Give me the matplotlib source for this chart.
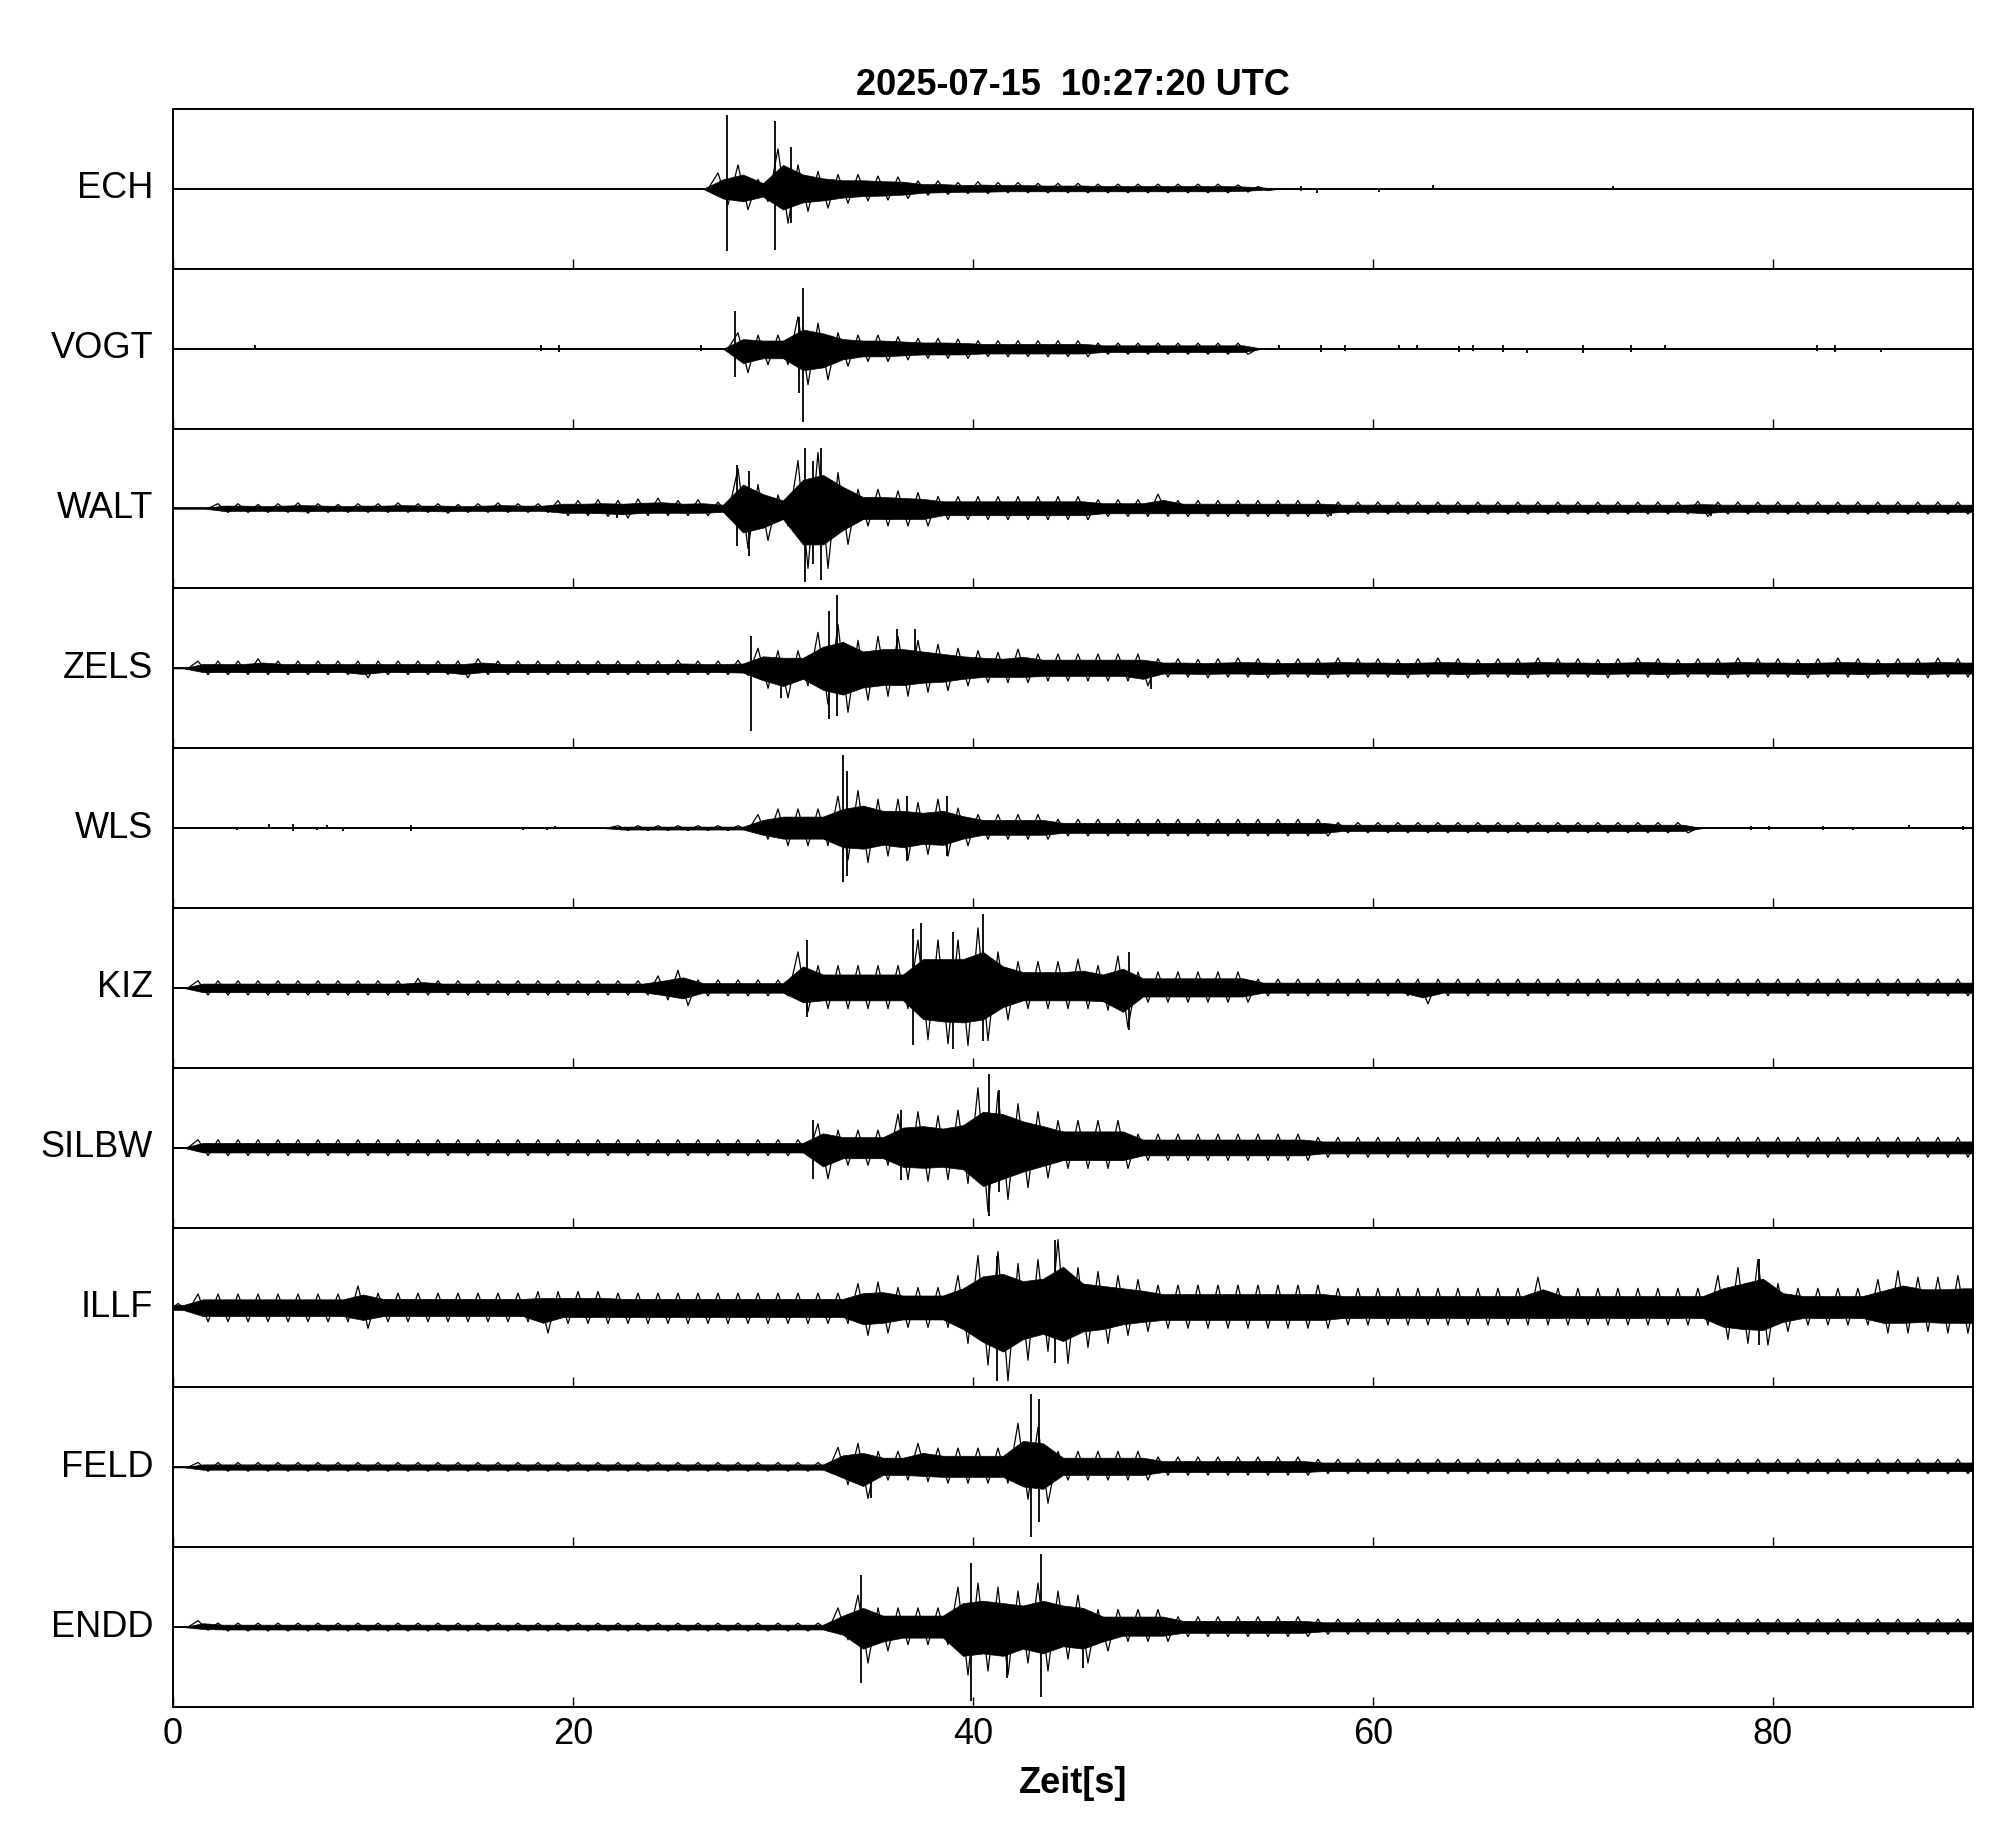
import numpy as np
import matplotlib
matplotlib.use('Agg')
import matplotlib.pyplot as plt

plt.rcParams['font.family'] = ['Liberation Sans', 'DejaVu Sans']

## DATA: envelope of each trace, per 1 s bin, in % of half panel height

title = '2025-07-15  10:27:20 UTC'
stations = ['ECH', 'VOGT', 'WALT', 'ZELS', 'WLS', 'KIZ', 'SILBW', 'ILLF', 'FELD', 'ENDD']
xticks = [0, 20, 40, 60, 80]

ech_hi = [0,0,0,0,0,0,0,0,0,0, 0,0,0,0,0,0,0,0,0,0, 0,0,0,0,0,0,0,20,30,12,
          50,30,22,18,18,16,15,10,10,8, 9,8,8,7,7,7,6,6,6,6, 6,6,6,5,3,0,0,0,0,0,
          0,0,0,0,0,0,0,0,0,0, 0,0,0,0,0,0,0,0,0,0, 0,0,0,0,0,0,0,0,0,0]
ech_lo = [0,0,0,0,0,0,0,0,0,0, 0,0,0,0,0,0,0,0,0,0, 0,0,0,0,0,0,0,-20,-26,-16,
          -43,-28,-24,-18,-15,-14,-12,-8,-7,-6, -6,-5,-5,-5,-5,-5,-5,-5,-5,-5,
          -5,-5,-5,-4,-2,0,0,0,0,0, 0,0,0,0,0,0,0,0,0,0, 0,0,0,0,0,0,0,0,0,0,
          0,0,0,0,0,0,0,0,0,0]

vogt_hi = [0,0,0,0,0,0,0,0,0,0, 0,0,0,0,0,0,0,0,0,0, 0,0,0,0,0,0,0,0,20,17,
           17,40,32,20,17,17,15,13,13,12, 10,10,10,10,10,10,7,7,7,7, 7,7,7,7,0,0,0,0,0,0,
           0,0,0,0,0,0,0,0,0,0, 0,0,0,0,0,0,0,0,0,0, 0,0,0,0,0,0,0,0,0,0]
vogt_lo = [0,0,0,0,0,0,0,0,0,0, 0,0,0,0,0,0,0,0,0,0, 0,0,0,0,0,0,0,0,-30,-20,
           -20,-45,-39,-22,-16,-16,-14,-12,-12,-12, -10,-10,-10,-10,-10,-10,-7,-7,-7,-7,
           -7,-7,-7,-7,0,0,0,0,0,0, 0,0,0,0,0,0,0,0,0,0, 0,0,0,0,0,0,0,0,0,0,
           0,0,0,0,0,0,0,0,0,0]

walt_hi = [0,0,6,6,5,6,7,6,5,6, 6,7,6,6,5,6,7,6,6,10, 10,11,10,12,13,10,11,8,50,30,
           17,60,70,45,24,24,22,20,15,15, 15,15,15,15,15,15,11,11,11,18,
           10,10,10,10,10,10,10,10,8,8, 8,8,8,8,8,8,8,8,8,8, 8,8,8,8,8,8,9,8,8,8,
           8,8,8,8,8,8,8,8,8,8]
walt_lo = [0,0,-5,-5,-5,-5,-6,-5,-5,-5, -5,-5,-5,-6,-5,-5,-5,-5,-5,-9,
           -9,-10,-12,-9,-9,-9,-9,-7,-50,-40, -22,-75,-75,-45,-22,-22,-22,-22,-14,-14,
           -14,-14,-14,-14,-14,-14,-10,-10,-10,-10, -10,-10,-10,-10,-10,-10,-10,-10,-7,-7,
           -7,-7,-7,-7,-7,-7,-7,-7,-7,-7, -7,-7,-7,-7,-7,-7,-10,-7,-7,-7,
           -7,-7,-7,-7,-7,-7,-7,-7,-7,-7]

zels_hi = [0,9,9,9,12,9,9,9,9,9, 9,9,9,9,9,12,9,9,9,9, 9,9,9,9,9,10,9,9,10,25,
           22,22,45,55,35,40,40,35,30,25, 22,20,24,18,18,18,18,18,18,12,
           12,11,12,13,12,11,12,12,13,12, 12,11,12,13,12,11,12,12,13,12,
           12,11,12,13,12,11,12,12,13,12, 12,11,12,13,12,11,12,12,13,12]
zels_lo = [0,-8,-8,-8,-8,-8,-8,-8,-8,-12, -8,-8,-8,-8,-12,-8,-8,-8,-8,-8,
           -8,-8,-8,-8,-8,-8,-8,-8,-9,-25, -37,-22,-45,-55,-40,-35,-35,-30,-28,-22,
           -18,-18,-18,-16,-16,-16,-16,-16,-22,-11, -11,-12,-11,-11,-12,-11,-11,-12,-11,-11,
           -11,-12,-11,-11,-12,-11,-11,-12,-11,-11, -11,-12,-11,-11,-12,-11,-11,-12,-11,-11,
           -11,-12,-11,-11,-12,-11,-11,-12,-11,-11]

wls_hi = [0,0,0,0,0,0,0,0,0,0, 0,0,0,0,0,0,0,0,0,0, 0,0,3,3,3,3,3,3,3,17,
          24,24,24,40,47,36,36,32,36,25, 17,17,17,17,11,11,11,11,11,11,
          11,11,11,11,11,11,11,11,7,7, 7,7,7,7,7,7,7,7,7,7, 7,7,7,7,7,7,0,0,0,0,
          0,0,0,0,0,0,0,0,0,0]
wls_lo = [0,0,0,0,0,0,0,0,0,0, 0,0,0,0,0,0,0,0,0,0, 0,0,-3,-3,-3,-3,-3,-3,-3,-14,
          -22,-22,-22,-40,-43,-35,-40,-33,-35,-22, -14,-14,-14,-14,-10,-10,-10,-10,-10,-10,
          -10,-10,-10,-10,-10,-10,-10,-10,-6,-6, -6,-6,-6,-6,-6,-6,-6,-6,-6,-6,
          -6,-6,-6,-6,-6,-6,0,0,0,0, 0,0,0,0,0,0,0,0,0,0]

kiz_hi = [0,9,9,9,9,9,9,9,9,9, 9,9,12,9,9,9,9,9,9,9, 9,9,9,9,15,22,10,10,10,10,
          10,45,28,28,28,28,28,60,60,60, 75,45,33,33,33,36,28,40,20,20,
          20,20,20,20,11,11,11,11,11,11, 11,11,11,11,11,11,11,11,11,11,
          11,11,11,11,11,11,11,11,11,11, 11,11,11,11,11,11,11,11,11,11]
kiz_lo = [0,-9,-9,-9,-9,-9,-9,-9,-9,-9, -9,-9,-9,-9,-9,-9,-9,-9,-9,-9,
          -9,-9,-9,-9,-15,-22,-10,-10,-10,-10, -10,-30,-26,-26,-26,-26,-26,-65,-70,-72,
          -66,-40,-26,-26,-26,-26,-28,-50,-18,-18, -18,-18,-18,-18,-10,-10,-10,-10,-10,-10,
          -10,-10,-20,-10,-10,-10,-10,-10,-10,-10, -10,-10,-10,-10,-10,-10,-10,-10,-10,-10,
          -10,-10,-10,-10,-10,-10,-10,-10,-10,-10]

silbw_hi = [0,10,10,10,10,10,10,10,10,10, 10,10,10,10,10,10,10,10,10,10,
            10,10,10,10,10,10,10,10,10,10, 10,10,30,22,22,22,42,45,40,47,
            75,70,55,45,34,34,34,34,17,17, 17,17,17,17,17,17,17,13,13,13,
            13,13,13,13,13,13,13,13,13,13, 13,13,13,13,13,13,13,13,13,13,
            13,13,13,13,13,13,13,13,13,13]
silbw_lo = [0,-10,-10,-10,-10,-10,-10,-10,-10,-10, -10,-10,-10,-10,-10,-10,-10,-10,-10,-10,
            -10,-10,-10,-10,-10,-10,-10,-10,-10,-10, -10,-10,-39,-22,-22,-22,-40,-42,-40,-45,
            -80,-65,-50,-38,-26,-26,-26,-26,-16,-16, -16,-16,-16,-16,-16,-16,-16,-12,-12,-12,
            -12,-12,-12,-12,-12,-12,-12,-12,-12,-12, -12,-12,-12,-12,-12,-12,-12,-12,-12,-12,
            -12,-12,-12,-12,-12,-12,-12,-12,-12,-12]

illf_hi = [5,17,17,17,17,17,17,17,17,27, 18,18,18,18,18,18,18,18,20,20,
           20,20,18,18,18,18,18,18,18,18, 18,18,18,18,30,32,25,25,25,40,
           65,70,55,60,85,50,45,40,35,28, 28,28,28,28,28,28,28,28,24,24,
           24,24,24,24,24,24,24,24,38,24, 24,24,24,24,24,24,24,40,50,60,
           30,24,24,24,24,35,46,38,38,40]
illf_lo = [-5,-18,-18,-18,-18,-18,-18,-18,-18,-26, -18,-18,-18,-18,-18,-18,-18,-18,-32,-20,
           -20,-20,-20,-20,-20,-20,-20,-20,-20,-20, -20,-20,-20,-20,-35,-32,-25,-25,-25,-45,
           -72,-92,-66,-55,-70,-50,-45,-35,-30,-26, -26,-26,-26,-26,-26,-26,-26,-26,-22,-22,
           -22,-22,-22,-22,-22,-22,-22,-22,-22,-22, -22,-22,-22,-22,-22,-22,-22,-40,-45,-47,
           -30,-22,-22,-22,-22,-32,-32,-30,-32,-32]

feld_hi = [0,6,6,6,6,6,6,6,6,6, 6,6,6,6,6,6,6,6,6,6, 6,6,6,6,6,6,6,6,6,6,
           6,6,6,25,30,20,20,30,24,24, 24,24,55,50,20,20,20,20,20,13,
           13,13,13,13,13,13,13,10,10,10, 10,10,10,10,10,10,10,10,10,10,
           10,10,10,10,10,10,10,10,10,10, 10,10,10,10,10,10,10,10,10,10]
feld_lo = [0,-5,-5,-5,-5,-5,-5,-5,-5,-5, -5,-5,-5,-5,-5,-5,-5,-5,-5,-5,
           -5,-5,-5,-5,-5,-5,-5,-5,-5,-5, -5,-5,-5,-22,-39,-16,-16,-18,-20,-20,
           -20,-20,-40,-45,-16,-16,-16,-16,-16,-10, -10,-10,-10,-10,-10,-10,-10,-8,-8,-8,
           -8,-8,-8,-8,-8,-8,-8,-8,-8,-8, -8,-8,-8,-8,-8,-8,-8,-8,-8,-8,
           -8,-8,-8,-8,-8,-8,-8,-8,-8,-8]

endd_hi = [0,8,5,5,5,5,5,5,5,5, 5,5,5,5,5,5,5,5,5,5, 5,5,5,5,5,5,5,5,5,5,
           5,5,5,24,40,24,24,24,24,50, 55,50,45,55,45,40,22,22,22,22,
           13,13,13,13,13,13,13,10,10,10, 10,10,10,10,10,10,10,10,10,10,
           10,10,10,10,10,10,10,10,10,10, 10,10,10,10,10,10,10,10,10,10]
endd_lo = [0,-4,-5,-5,-5,-5,-5,-5,-5,-5, -5,-5,-5,-5,-5,-5,-5,-5,-5,-5,
           -5,-5,-5,-5,-5,-5,-5,-5,-5,-5, -5,-5,-5,-16,-45,-30,-22,-22,-22,-60,
           -55,-60,-45,-55,-40,-45,-30,-18,-18,-18, -12,-12,-12,-12,-12,-12,-12,-9,-9,-9,
           -9,-9,-9,-9,-9,-9,-9,-9,-9,-9, -9,-9,-9,-9,-9,-9,-9,-9,-9,-9,
           -9,-9,-9,-9,-9,-9,-9,-9,-9,-9]

## narrow peaks: (time s, top %, bottom %)

ech_spk = [(27.7, 92, -78), (30.1, 85, -76), (30.9, 53, -43), (56.4, 3, -3), (57.2, 0, -5),
           (60.3, 0, -4), (63.0, 5, 0), (72.0, 4, 0)]
vogt_spk = [(4.1, 4, 0), (9.5, 0, -2), (16.9, 0, -2), (18.4, 4, -3), (19.3, 5, -4), (26.4, 4, -3),
            (28.1, 47, -35), (31.5, 76, -92), (31.3, 40, -55), (55.3, 5, 0), (57.4, 4, -4),
            (58.6, 5, -3), (61.3, 4, 0), (62.2, 4, 0), (64.3, 3, -4), (65.0, 4, -3), (66.5, 5, -4),
            (67.7, 0, -5), (70.5, 4, -5), (72.9, 4, -4), (74.6, 5, 0), (82.2, 4, -3), (83.1, 4, -4),
            (85.4, 0, -4)]
walt_spk = [(28.2, 55, -47), (28.8, 47, -59), (31.6, 76, -92), (32.4, 76, -89), (32.0, 60, -70),
            (22.2, 0, -12), (57.9, 0, -10), (76.9, 0, -10)]
zels_spk = [(28.9, 40, -78), (33.2, 92, -60), (32.8, 72, -64), (30.4, 0, -37), (36.2, 49, 0),
            (37.1, 49, 0), (48.9, 0, -26)]
wls_spk = [(3.2, 0, -3), (4.8, 5, 0), (6.0, 5, -4), (7.2, 0, -3), (7.7, 4, 0), (8.5, 0, -4),
           (11.9, 4, -4), (17.5, 0, -3), (18.7, 0, -3), (19.1, 2, 0), (33.5, 92, -67),
           (33.7, 72, -60), (36.7, 40, -41), (38.7, 40, -35), (78.9, 3, -3), (79.8, 3, -2),
           (82.5, 3, -3), (84.0, 0, -3), (86.8, 4, 0), (89.5, 3, -3)]
kiz_spk = [(31.7, 60, -37), (37.0, 74, -72), (37.4, 81, 0), (39.0, 70, -76), (40.5, 92, -66),
           (47.8, 45, -53)]
silbw_spk = [(32.0, 35, -39), (40.8, 92, -85), (36.4, 47, -40), (41.3, 72, -55)]
illf_spk = [(41.2, 65, -92), (44.1, 85, -70), (79.3, 61, -47)]
feld_spk = [(42.9, 92, -87), (43.3, 85, -68), (34.9, 0, -39)]
endd_spk = [(34.4, 65, -70), (39.9, 80, -93), (43.4, 92, -87), (41.7, 0, -64), (45.5, 0, -51)]

his = [ech_hi, vogt_hi, walt_hi, zels_hi, wls_hi, kiz_hi, silbw_hi, illf_hi, feld_hi, endd_hi]
los = [ech_lo, vogt_lo, walt_lo, zels_lo, wls_lo, kiz_lo, silbw_lo, illf_lo, feld_lo, endd_lo]
spks = [ech_spk, vogt_spk, walt_spk, zels_spk, wls_spk, kiz_spk, silbw_spk, illf_spk, feld_spk, endd_spk]

## PLOT

fig, axes = plt.subplots(len(stations), 1, sharex=True, figsize=(20.05, 18.41), dpi=100)
fig.subplots_adjust(left=0.0863, right=0.984, top=0.9408, bottom=0.0728, hspace=0)

sec = np.arange(len(ech_hi)) + 0.5
xs = np.concatenate([[0], sec, [90]])
# peak at the first quarter of each bin, trough at the third quarter
zx = np.concatenate([[0], np.column_stack([sec - 0.25, sec + 0.25]).ravel(), [90]])

for ax, name, hi, lo, spk in zip(axes, stations, his, los, spks):
    hi = np.array(hi) / 100.0
    lo = np.array(lo) / 100.0
    yh = np.concatenate([[hi[0]], hi, [hi[-1]]])
    yl = np.concatenate([[lo[0]], lo, [lo[-1]]])
    zy = np.concatenate([[0], np.column_stack([hi, lo]).ravel(), [0]])
    ax.plot([0, 90], [0, 0], color='k', lw=1.3)
    ax.fill_between(xs, 0.6 * yl, 0.6 * yh, color='k', lw=0.5)
    ax.plot(zx, zy, color='k', lw=0.9)
    for t, top, bot in spk:
        ax.vlines(t, bot / 100.0, top / 100.0, color='k', lw=1.3)
    ax.set_ylim(-1, 1)
    ax.set_xlim(0, 90)
    ax.set_yticks([])
    ax.set_xticks(xticks)
    ax.tick_params(axis='x', direction='in', length=7, width=1, pad=7, labelsize=26,
                   labelbottom=False)
    for s in ax.spines.values():
        s.set_linewidth(1.4)
    ax.text(-0.011, 0.5, name, transform=ax.transAxes, ha='right', va='center', fontsize=26)

axes[-1].tick_params(axis='x', labelbottom=True)
axes[-1].set_xlabel('Zeit[s]', fontsize=26, fontweight='bold', labelpad=10)
axes[0].set_title(title, fontsize=26, fontweight='bold', pad=10)

plt.savefig('out.png', dpi=100)
